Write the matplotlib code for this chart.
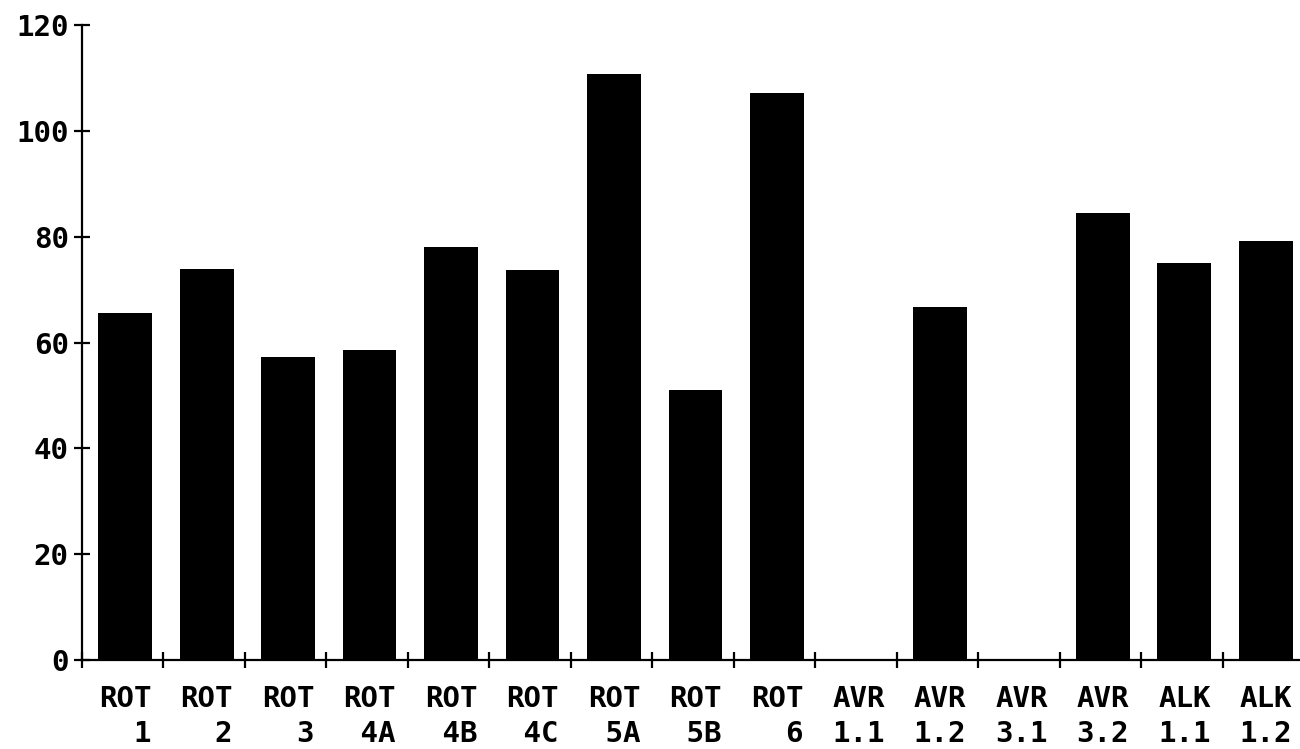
import numpy as np
import matplotlib.pyplot as plt

groups = ["ROT", "ROT", "ROT", "ROT", "ROT", "ROT", "ROT", "ROT", "ROT",
          "AVR", "AVR", "AVR", "AVR", "ALK", "ALK"]
codes = ["1", "2", "3", "4A", "4B", "4C", "5A", "5B", "6",
         "1.1", "1.2", "3.1", "3.2", "1.1", "1.2"]
values = [65.6, 73.9, 57.3, 58.6, 78.1, 73.7, 110.8, 51.0, 107.2,
          0, 66.7, 0, 84.5, 75.0, 79.2]
yticks = [0, 20, 40, 60, 80, 100, 120]

mono = "DejaVu Sans Mono"
fig = plt.figure(figsize=(13, 7.49), dpi=100)
ax = fig.add_axes([82 / 1300, 89 / 749, 1218 / 1300, 635 / 749])

x = np.arange(len(values))
ax.bar(x + 0.03, values, width=0.66, color="black")

ax.set_xlim(-0.5, 14.45)
ax.set_ylim(0, 120)
ax.spines["top"].set_visible(False)
ax.spines["right"].set_visible(False)
ax.spines["left"].set_linewidth(1.6)
ax.spines["bottom"].set_linewidth(1.6)

ax.set_yticks(yticks)
ax.set_yticklabels([str(v) for v in yticks], family=mono, weight="bold", fontsize=21)
ax.tick_params(axis="y", direction="inout", length=11, width=1.6, pad=4)

# boundaries between categories (the last one falls off the figure)
ax.set_xticks(np.arange(len(values)) - 0.5)
ax.set_xticklabels([])
ax.tick_params(axis="x", direction="inout", length=12, width=1.6)

for i, (g, c) in enumerate(zip(groups, codes)):
    ax.text(i + 0.03, -4.8, g + "\n" + c.rjust(3), ha="center", va="top",
            family=mono, weight="bold", fontsize=21, linespacing=1.3,
            clip_on=False)

fig.savefig("out.png", dpi=100)
